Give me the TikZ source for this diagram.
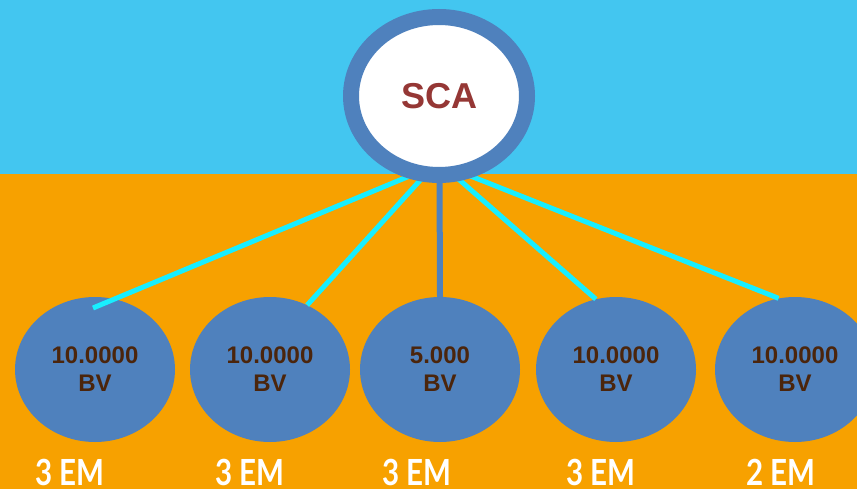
\documentclass[tikz,border=0pt]{standalone}
\usepackage{fontspec}
\setmainfont{Liberation Sans}
\newfontfamily\emfont{Lato}
\usetikzlibrary{shapes.geometric,calc}
\definecolor{skyband}{HTML}{43C6F0}
\definecolor{orangeband}{HTML}{F7A100}
\definecolor{nodeblue}{HTML}{4F81BD}
\definecolor{linkcyan}{HTML}{18EEFF}
\definecolor{numbrown}{HTML}{4B250C}
\definecolor{scared}{HTML}{953735}
\tikzset{
  child/.style={ellipse, fill=nodeblue, minimum width=160pt, minimum height=145pt, inner sep=0pt,
    align=center, text=numbrown, font=\fontsize{24}{28}\selectfont\bfseries},
  root/.style={ellipse, draw=nodeblue, line width=16pt, fill=white, minimum width=176pt, minimum height=158pt,
    inner sep=0pt, text=scared, font=\fontsize{36}{40}\selectfont\bfseries},
  link/.style={draw=linkcyan, line width=5pt},
  trunk/.style={draw=nodeblue, line width=6pt},
  emlabel/.style={anchor=base, text=white, inner sep=0pt, font=\emfont\fontsize{36}{38}\selectfont\bfseries, xscale=0.82}
}
\begin{document}
\begin{tikzpicture}[x=1pt,y=-1pt]
\useasboundingbox (0,0) rectangle (857,489);
\fill[skyband] (0,0) rectangle (857,174);
\fill[orangeband] (0,174) rectangle (857,489);
% children
\node[child] (c1) at (95,369.5) {10.0000\\BV};
\node[child] (c2) at (270,369.5) {10.0000\\BV};
\node[child] (c3) at (440,369.5) {5.000\\BV};
\node[child] (c4) at (616,369.5) {10.0000\\BV};
\node[child] (c5) at (795,369.5) {10.0000\\BV};
% link end points
\coordinate (e1) at ($(c1.center)+(-2,-61.5)$);
\coordinate (s1) at (412,175);
\coordinate (s2) at (424,176);
\coordinate (s4) at (455,176);
\coordinate (s5) at (468,175);
\draw[link] (s1) -- (e1);
\draw[link] (s2) -- (c2.60);
\draw[trunk] (439.5,170) -- (c3.north);
\draw[link] (s4) -- (c4.106);
\draw[link] (s5) -- (c5.103);
% root
\node[root] (sca) at (439,96) {SCA};
% labels
\node[emlabel] (l1) at (70,485) {3 EM};
\node[emlabel] (l2) at (250,485) {3 EM};
\node[emlabel] (l3) at (417,485) {3 EM};
\node[emlabel] (l4) at (601,485) {3 EM};
\node[emlabel] (l5) at (781,485) {2 EM};
\end{tikzpicture}
\end{document}
